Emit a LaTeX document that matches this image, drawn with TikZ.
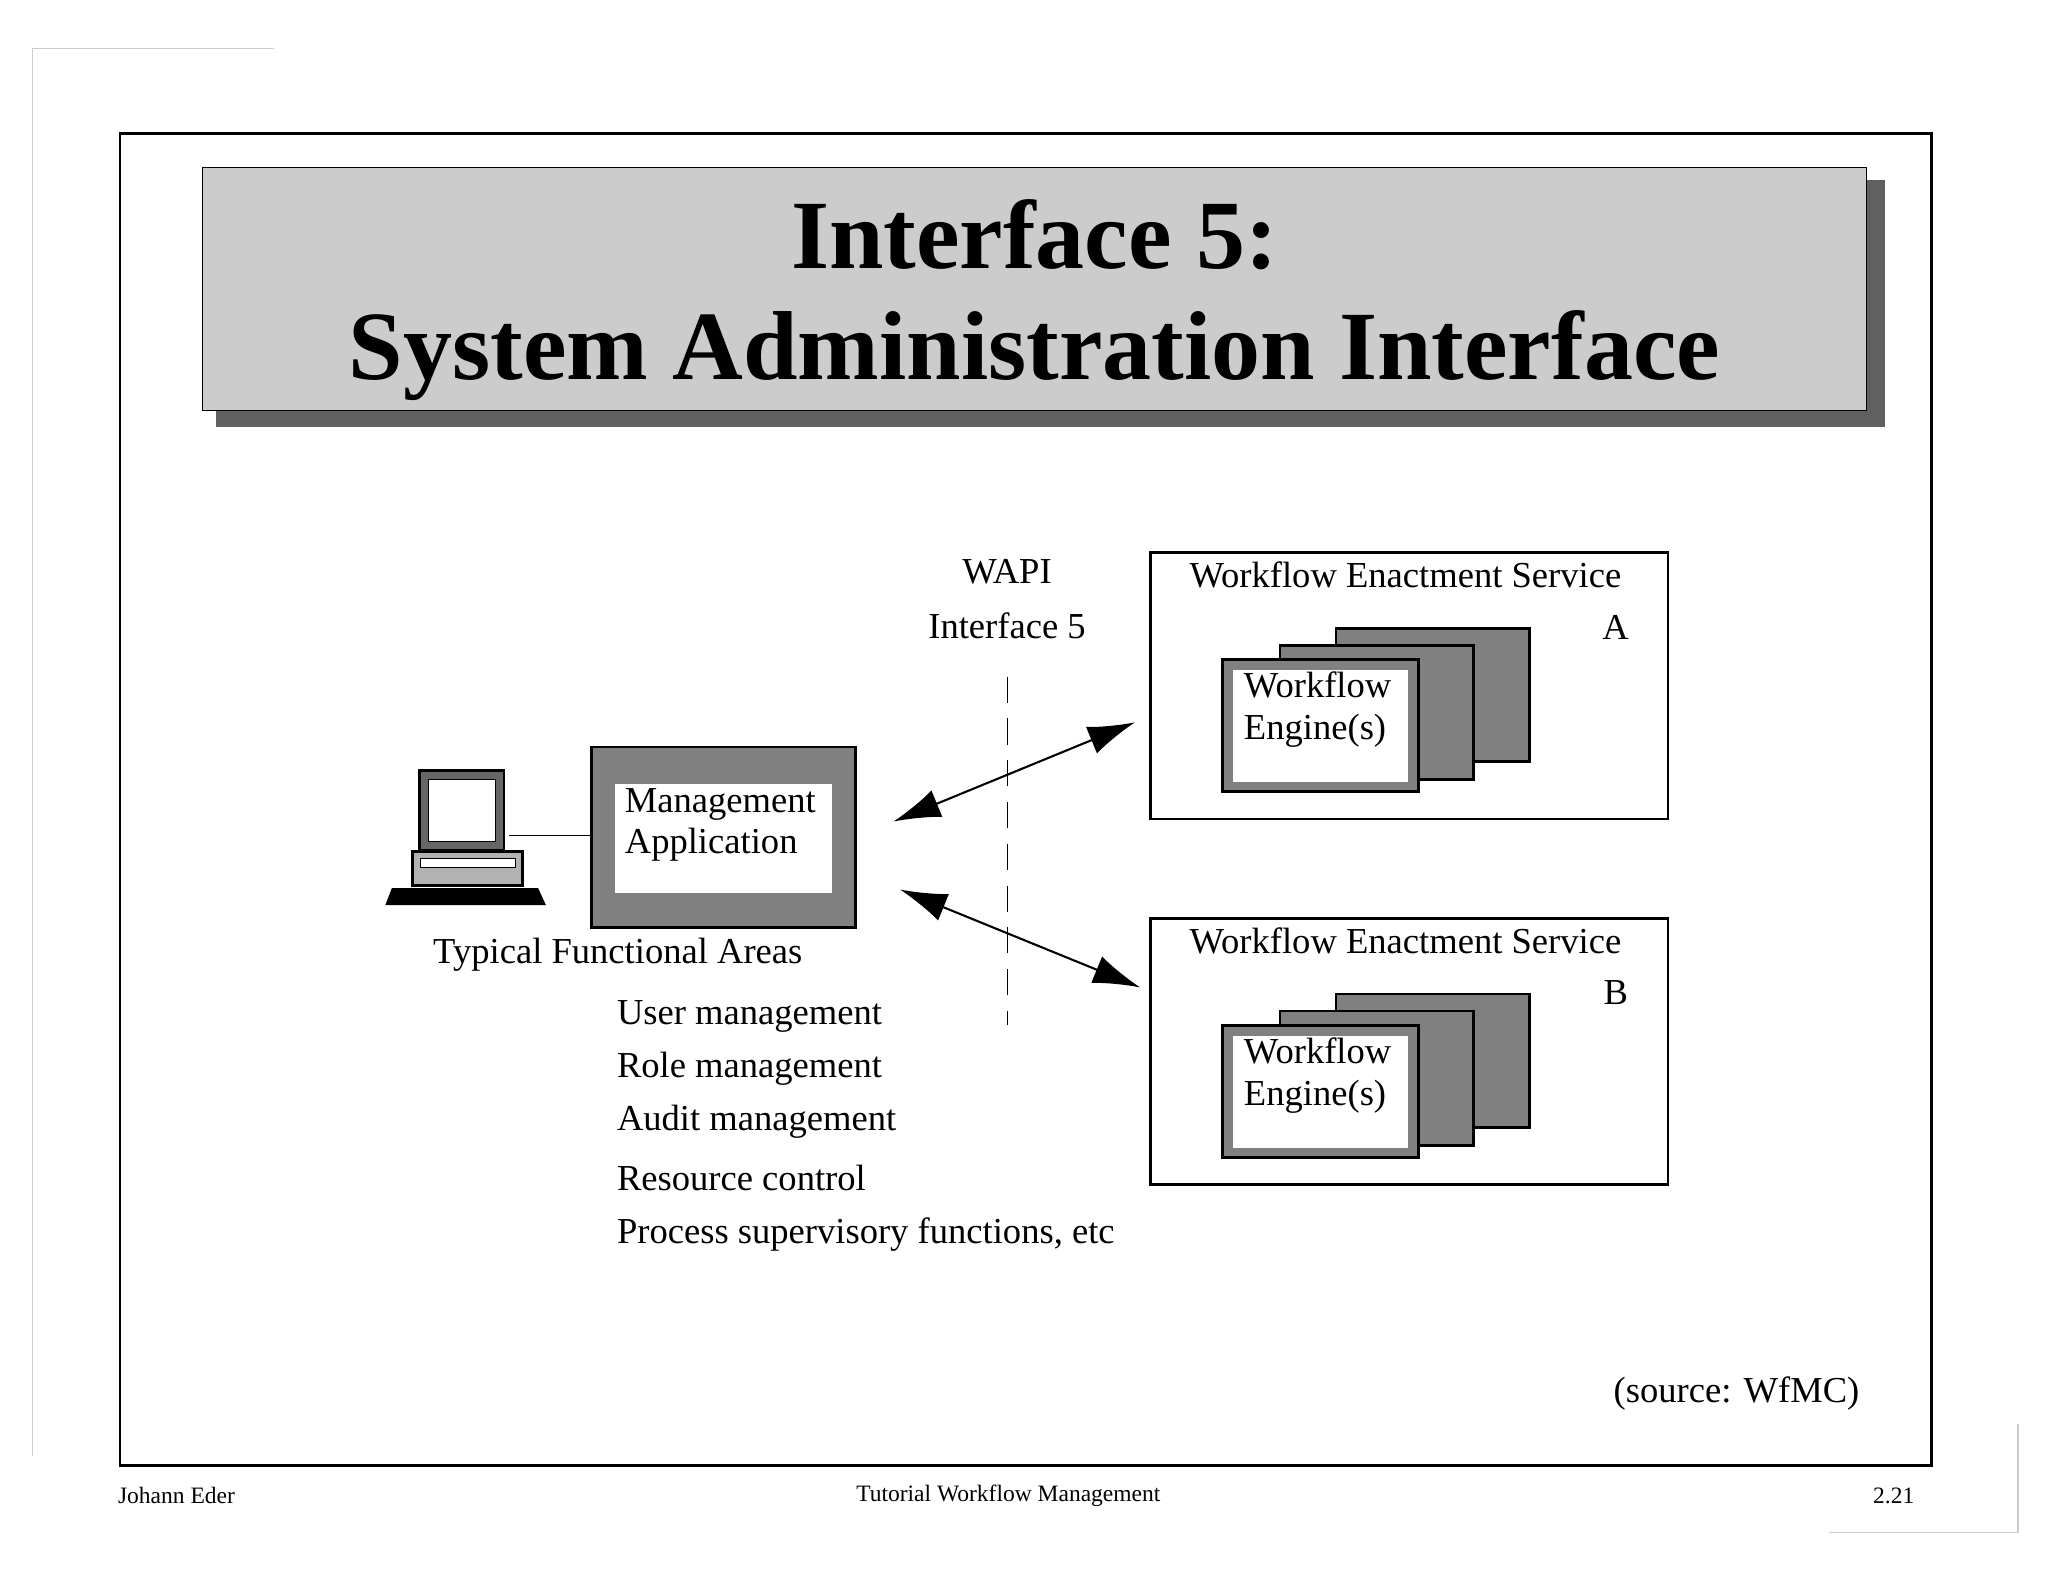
\documentclass[tikz,border=0pt]{standalone}
\usepackage{fontspec}
\setmainfont{Liberation Serif}
\usetikzlibrary{arrows.meta}
\begin{document}
\begin{tikzpicture}[x=0.5pt,y=-0.5pt,
  lab/.style={font=\fontsize{14}{14}\selectfont,inner sep=0pt},
  arr/.style={{Latex[length=18pt,width=11pt]}-{Latex[length=18pt,width=11pt]},line width=0.8pt}]
\useasboundingbox (0,0) rectangle (1568,1211);
\fill[white] (0,0) rectangle (1568,1211);
\draw[gray!40] (210,37) -- (25,37) -- (25,1115);
\draw[gray!40] (1545,1090) -- (1545,1173) -- (1400,1173);
\draw[line width=1pt] (92,102) rectangle (1479,1122);
% title
\fill[gray!75!black] (165,138) rectangle (1443,327);
\draw[fill=black!20] (155,128) rectangle (1429,314);
\node[font=\fontsize{37.5}{37.5}\selectfont\bfseries] (t1) at (792,180) {Interface 5:};
\node[font=\fontsize{37.5}{37.5}\selectfont\bfseries] (t2) at (792,272) {System Administration Interface};
% WAPI
\node[lab] (wapi) at (771,438) {WAPI};
\node[lab] (if5) at (771,479) {Interface 5};
\coordinate (d1) at (771,518); \coordinate (d2) at (771,785);
\draw[dash pattern=on 10pt off 6pt] (d1) -- (d2);
% services
\foreach \n/\dy/\L in {A/0/A,B/280/B}{
  \draw[line width=1pt] (881,423+\dy) rectangle (1277,627+\dy);
  \node[lab] (wes\n) at (1076,440+\dy) {Workflow Enactment Service};
  \node[lab] (l\n) at (1237,480+\dy) {\L};
  \draw[line width=1pt,fill=black!50] (1023,481+\dy) rectangle (1171,583+\dy);
  \draw[line width=1pt,fill=black!50] (980,494+\dy) rectangle (1128,597+\dy);
  \draw[line width=1pt,fill=black!50] (936,505+\dy) rectangle (1086,606+\dy);
  \fill[white] (944,513+\dy) rectangle (1078,599+\dy);
  \node[lab,align=left,anchor=north west] (e\n) at (952,514+\dy) {Workflow\\[2pt]Engine(s)};
}
% management app
\draw[line width=1pt,fill=black!50] (453,572) rectangle (655,710);
\fill[white] (471,600) rectangle (637,684);
\node[lab,align=left,anchor=north west] (ma) at (478,603) {Management\\[2pt]Application};
% computer
\draw[line width=1pt,fill=black!60] (321,590) rectangle (386,651);
\draw[fill=white] (328,597) rectangle (379,644);
\draw[line width=1pt,fill=black!30] (316,652) rectangle (400,678);
\draw[fill=white] (322,657) rectangle (395,664);
\fill[black] (300,680) -- (412,680) -- (418,693) -- (295,693) -- cycle;
\coordinate (pc) at (390,640);
\draw (pc) -- (453,640);
% arrows
\coordinate (a1) at (684,629); \coordinate (a2) at (869,553);
\coordinate (b1) at (689,681); \coordinate (b2) at (873,756);
\draw[arr] (a1) -- (a2);
\draw[arr] (b1) -- (b2);
% list
\node[lab] (tfa) at (473,731) {Typical Functional Areas};
\foreach \y/\t [count=\i] in {778/User management,818/Role management,859/Audit management,902/Resource control,945/{Process supervisory functions, etc}}
  \node[lab,anchor=west] (f\i) at (472,\y) {\t};
\node[font=\fontsize{14}{14}\selectfont,anchor=east,inner sep=0pt] (src) at (1424,1067) {(source: WfMC)};
% footer
\node[font=\fontsize{9}{9}\selectfont,anchor=west,inner sep=0pt] (fa) at (90,1145) {Johann Eder};
\node[font=\fontsize{9}{9}\selectfont,inner sep=0pt] (fb) at (772,1145) {Tutorial Workflow Management};
\node[font=\fontsize{9}{9}\selectfont,anchor=east,inner sep=0pt] (fc) at (1466,1145) {2.21};
\end{tikzpicture}
\end{document}
